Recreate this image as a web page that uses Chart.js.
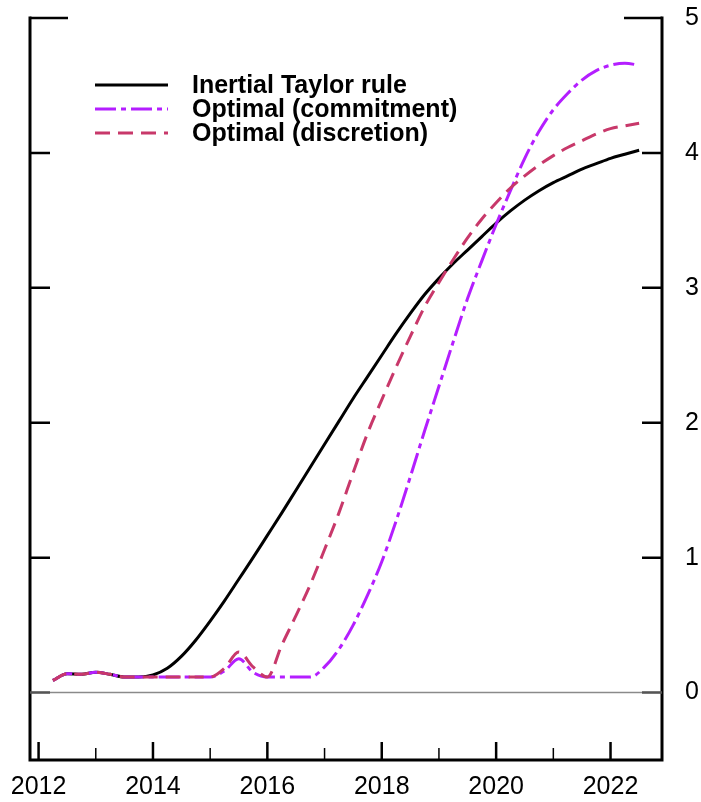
<!DOCTYPE html>
<html>
<head>
<meta charset="utf-8">
<script src="https://cdn.jsdelivr.net/npm/chart.js@4.4.1/dist/chart.umd.min.js"></script>
<style>
  html, body { margin: 0; padding: 0; background: #fff; }
  #wrap { width: 701px; height: 802px; position: relative; }
</style>
</head>
<body>
<div id="wrap"><canvas id="chart"></canvas></div>
<script>
// --- Data (quarterly) ---
const quarters = [
  2012.25, 2012.5, 2012.75, 2013.0, 2013.25, 2013.5, 2013.75, 2014.0,
  2014.25, 2014.5, 2014.75, 2015.0, 2015.25, 2015.5, 2015.75, 2016.0,
  2016.25, 2016.5, 2016.75, 2017.0, 2017.25, 2017.5, 2017.75, 2018.0,
  2018.25, 2018.5, 2018.75, 2019.0, 2019.25, 2019.5, 2019.75, 2020.0,
  2020.25, 2020.5, 2020.75, 2021.0, 2021.25, 2021.5, 2021.75, 2022.0,
  2022.25, 2022.5
];
const taylorRule = [
  0.09, 0.14, 0.135, 0.15, 0.135, 0.115, 0.115, 0.13,
  0.18, 0.27, 0.39, 0.53, 0.68, 0.84, 1.00, 1.165,
  1.33, 1.50, 1.67, 1.84, 2.01, 2.18, 2.34, 2.50,
  2.66, 2.81, 2.95, 3.07, 3.18, 3.28, 3.38, 3.48,
  3.57, 3.65, 3.72, 3.78, 3.83, 3.88, 3.92, 3.96,
  3.99, 4.02
];
const commitment = [
  0.09, 0.14, 0.135, 0.15, 0.135, 0.115, 0.115, 0.115,
  0.115, 0.115, 0.115, 0.115, 0.16, 0.25, 0.15, 0.115,
  0.115, 0.115, 0.115, 0.19, 0.32, 0.50, 0.72, 0.97,
  1.27, 1.60, 1.94, 2.27, 2.60, 2.92, 3.20, 3.47,
  3.72, 3.96, 4.16, 4.32, 4.44, 4.54, 4.61, 4.65,
  4.665, 4.65
];
const discretion = [
  0.09, 0.14, 0.135, 0.15, 0.135, 0.115, 0.115, 0.115,
  0.115, 0.115, 0.115, 0.115, 0.18, 0.30, 0.19, 0.115,
  0.35, 0.57, 0.80, 1.06, 1.33, 1.63, 1.92, 2.17,
  2.41, 2.64, 2.86, 3.04, 3.21, 3.37, 3.51, 3.63,
  3.74, 3.83, 3.91, 3.98, 4.04, 4.09, 4.14, 4.18,
  4.20, 4.22
];
const seriesLabels = ['Inertial Taylor rule', 'Optimal (commitment)', 'Optimal (discretion)'];
const xMajorTicks = [2012, 2014, 2016, 2018, 2020, 2022];
const xMinorTicks = [2013, 2015, 2017, 2019, 2021];
const yTicks = [0, 1, 2, 3, 4, 5];

const pts = (vals) => quarters.map((q, i) => ({ x: q, y: vals[i] }));

// --- Frame, inward ticks, zero line, legend ---
const framePlugin = {
  id: 'frame',
  afterDatasetsDraw(chart) {
    const { ctx, chartArea: a, scales: { x, y } } = chart;
    ctx.save();
    // zero line
    const y0 = y.getPixelForValue(0);
    ctx.strokeStyle = '#8a8a8a';
    ctx.lineWidth = 1.5;
    ctx.beginPath(); ctx.moveTo(a.left, y0); ctx.lineTo(a.right, y0); ctx.stroke();

    ctx.strokeStyle = '#000';
    ctx.lineWidth = 3;
    ctx.lineCap = 'butt';
    // left, bottom, right borders
    ctx.beginPath();
    ctx.moveTo(a.left, a.top - 1.5);
    ctx.lineTo(a.left, a.bottom);
    ctx.lineTo(a.right, a.bottom);
    ctx.lineTo(a.right, a.top - 1.5);
    ctx.stroke();

    // y ticks on both sides
    ctx.lineWidth = 2.5;
    yTicks.forEach(v => {
      const py = y.getPixelForValue(v);
      const len = v === 5 ? 38 : 20;
      ctx.strokeStyle = v === 0 ? '#555' : '#000';
      ctx.beginPath();
      ctx.moveTo(a.left, py); ctx.lineTo(a.left + len, py);
      ctx.moveTo(a.right, py); ctx.lineTo(a.right - len, py);
      ctx.stroke();
    });
    ctx.strokeStyle = '#000';
    // x ticks, pointing up from the bottom border
    xMajorTicks.forEach(v => {
      const px = x.getPixelForValue(v);
      ctx.beginPath(); ctx.moveTo(px, a.bottom); ctx.lineTo(px, a.bottom - 18); ctx.stroke();
    });
    ctx.lineWidth = 1.5;
    xMinorTicks.forEach(v => {
      const px = x.getPixelForValue(v);
      ctx.beginPath(); ctx.moveTo(px, a.bottom); ctx.lineTo(px, a.bottom - 12); ctx.stroke();
    });

    // legend
    ctx.font = 'bold 25px "Liberation Sans", Arial, sans-serif';
    ctx.textBaseline = 'middle';
    ctx.textAlign = 'left';
    chart.data.datasets.forEach((ds, i) => {
      const ly = 85 + i * 24;
      ctx.strokeStyle = ds.borderColor;
      ctx.lineWidth = 3;
      ctx.setLineDash(ds.borderDash || []);
      ctx.beginPath(); ctx.moveTo(95, ly); ctx.lineTo(168, ly); ctx.stroke();
      ctx.setLineDash([]);
      ctx.fillStyle = '#000';
      ctx.fillText(ds.label, 192, ly + 1);
    });
    ctx.restore();
  }
};

new Chart(document.getElementById('chart'), {
  type: 'line',
  data: {
    datasets: [
      { label: seriesLabels[0], data: pts(taylorRule), borderColor: '#000000', borderWidth: 3, order: 2 },
      { label: seriesLabels[1], data: pts(commitment), borderColor: '#b41eff', borderWidth: 3, borderDash: [21, 5, 5, 5], order: 1 },
      { label: seriesLabels[2], data: pts(discretion), borderColor: '#c8386a', borderWidth: 3, borderDash: [15, 8], order: 0 }
    ]
  },
  options: {
    responsive: true,
    maintainAspectRatio: false,
    animation: false,
    events: [],
    elements: { point: { radius: 0 }, line: { cubicInterpolationMode: 'monotone', fill: false } },
    layout: { padding: { left: 30, top: 18, right: 0, bottom: 0 } },
    plugins: { legend: { display: false }, tooltip: { enabled: false } },
    scales: {
      x: {
        type: 'linear',
        min: 2011.85,
        max: 2022.9,
        afterBuildTicks: (s) => { s.ticks = xMajorTicks.map(v => ({ value: v })); },
        afterFit: (s) => { s.height = 42; s.paddingLeft = 0; s.paddingRight = 0; },
        grid: { display: false, drawTicks: false },
        border: { display: false },
        ticks: {
          padding: 12,
          color: '#000',
          font: { family: '"Liberation Sans", Arial, sans-serif', size: 25 },
          maxRotation: 0,
          autoSkip: false,
          callback: (v) => String(v)
        }
      },
      y: {
        position: 'right',
        min: -0.5,
        max: 5,
        afterBuildTicks: (s) => { s.ticks = yTicks.map(v => ({ value: v })); },
        afterFit: (s) => { s.width = 39; s.paddingTop = 0; s.paddingBottom = 0; },
        grid: { display: false, drawTicks: false },
        border: { display: false },
        ticks: {
          padding: 23,
          color: '#000',
          font: { family: '"Liberation Sans", Arial, sans-serif', size: 25 },
          callback: (v) => String(v)
        }
      }
    }
  },
  plugins: [framePlugin]
});
</script>
</body>
</html>
